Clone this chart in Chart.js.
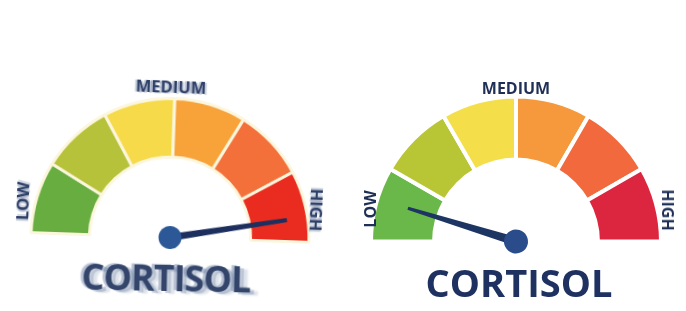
<!DOCTYPE html>
<html>
<head>
<meta charset="utf-8">
<script src="https://cdn.jsdelivr.net/npm/chart.js@4.4.1/dist/chart.umd.min.js"></script>
<style>
  html,body{margin:0;padding:0;background:#fff;}
  #stage{position:relative;width:686px;height:311px;overflow:hidden;background:#fff;}
  .box{position:absolute;}
  .lbl{position:absolute;transform-origin:center center;white-space:nowrap;font-family:"Open Sans",Roboto,sans-serif;font-weight:700;line-height:1;}
</style>
</head>
<body>
<div id="stage">
  <div class="box" id="leftBox" style="left:25px;top:73px;width:290px;height:190px;filter:blur(0.7px);transform-origin:145px 164.5px;transform:rotate(2deg);"><canvas id="leftGauge"></canvas></div>
  <div class="box" id="rightBox" style="left:366px;top:68.5px;width:300px;height:200px;"><canvas id="rightGauge"></canvas></div>
</div>
<script>
// ---- data ----
const zones = ['Low', 'Low-mid', 'Medium-low', 'Medium-high', 'High-mid', 'High'];
const zoneSizes = [1, 1, 1, 1, 1, 1];
const scaleLabels = ['LOW', 'MEDIUM', 'HIGH'];
const gaugeTitle = 'CORTISOL';
const leftColors = ['#67ad40', '#b7c23b', '#f6da4a', '#f8a23a', '#f4703a', '#ea2b1f'];
const rightColors = ['#6bb84a', '#b8c535', '#f4df4a', '#f5993c', '#f1693c', '#dc2640'];
const leftNeedleValue = 5.65;   // on 0..6 scale
const rightNeedleValue = 0.57;  // on 0..6 scale

const needlePlugin = {
  id: 'needle',
  afterDatasetsDraw(chart, args, opts) {
    const meta = chart.getDatasetMeta(0);
    const arc = meta.data[0];
    if (!arc) return;
    const cx = arc.x, cy = arc.y, R = arc.outerRadius;
    const total = zoneSizes.reduce((a, b) => a + b, 0);
    const ang = Math.PI + (opts.value / total) * Math.PI;
    const L = R * opts.length;
    const ctx = chart.ctx;
    ctx.save();
    ctx.translate(cx, cy);
    ctx.rotate(ang);
    ctx.beginPath();
    ctx.moveTo(0, -opts.baseW);
    ctx.lineTo(L, -opts.tipW);
    ctx.lineTo(L, opts.tipW);
    ctx.lineTo(0, opts.baseW);
    ctx.closePath();
    ctx.fillStyle = opts.color;
    ctx.fill();
    ctx.beginPath();
    ctx.arc(0, 0, opts.hub, 0, Math.PI * 2);
    ctx.fillStyle = opts.hubColor;
    ctx.fill();
    ctx.restore();
  }
};

function makeGauge(id, colors, radius, cutout, border, borderColor, needle) {
  return new Chart(document.getElementById(id), {
    type: 'doughnut',
    data: {
      labels: zones,
      datasets: [{
        data: zoneSizes,
        backgroundColor: colors,
        borderColor: borderColor,
        borderWidth: border,
        hoverOffset: 0
      }]
    },
    options: {
      responsive: true,
      maintainAspectRatio: false,
      animation: false,
      rotation: -90,
      circumference: 180,
      radius: radius,
      cutout: cutout,
      layout: { padding: 0 },
      events: [],
      plugins: {
        legend: { display: false },
        tooltip: { enabled: false },
        needle: needle
      }
    },
    plugins: [needlePlugin]
  });
}

makeGauge('leftGauge', leftColors, 139, '58%', 3, '#fbf6dc',
  { value: leftNeedleValue, length: 0.85, baseW: 3.5, tipW: 2, color: '#1c2f5e', hub: 11.5, hubColor: '#2c5898' });
makeGauge('rightGauge', rightColors, 145, '56.5%', 4, '#ffffff',
  { value: rightNeedleValue, length: 0.78, baseW: 4.5, tipW: 1.6, color: '#1d3563', hub: 12, hubColor: '#2b4c8a' });

// ---- labels (real text) ----
const stage = document.getElementById('stage');
function addLabel(text, x, y, size, rot, color, extra) {
  const d = document.createElement('div');
  d.className = 'lbl';
  d.textContent = text;
  d.style.left = x + 'px';
  d.style.top = y + 'px';
  d.style.fontSize = size + 'px';
  d.style.color = color;
  d.style.transform = 'translate(-50%,-50%) rotate(' + rot + 'deg)';
  if (extra) Object.assign(d.style, extra);
  stage.appendChild(d);
}
const ghost = { filter: 'blur(0.5px)', textShadow: '-2px 0 1px rgba(90,110,150,0.4), 2px 1px 1px rgba(90,110,150,0.3)' };
addLabel(scaleLabels[1], 171, 87, 16.5, 2, '#2f4068', ghost);
addLabel(scaleLabels[0], 23, 201, 16.5, -88, '#2f4068', ghost);
addLabel(scaleLabels[2], 316, 210, 16.5, 92, '#2f4068', ghost);
addLabel(gaugeTitle, 166, 278, 36, 1, '#34456b',
  { filter: 'blur(0.6px)', letterSpacing: '-1px', textShadow: '-3px -1px 1px rgba(110,130,165,0.5), 4px 2px 1px rgba(110,130,165,0.4), 8px 3px 2px rgba(150,165,190,0.3)' });

addLabel(scaleLabels[1], 516, 88, 16, 0, '#1f2f55');
addLabel(scaleLabels[0], 370, 209, 16, -90, '#1f2f55');
addLabel(scaleLabels[2], 668, 210, 16, 90, '#1f2f55');
addLabel(gaugeTitle, 519, 282, 38, 0, '#1e3160');
</script>
</body>
</html>
